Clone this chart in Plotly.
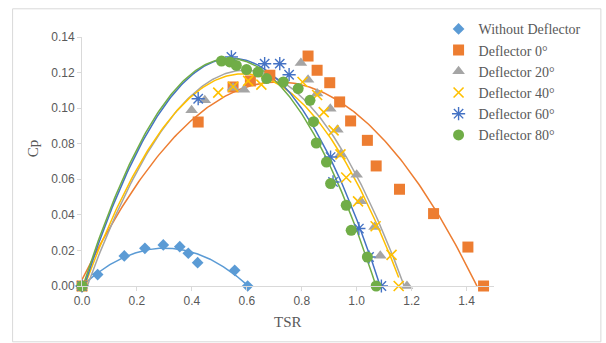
import numpy as np
import plotly.graph_objects as go

# ---- data ----
tsr_none = [0.0, 0.057, 0.154, 0.229, 0.296, 0.356, 0.387, 0.421, 0.556, 0.603]
cp_none = [0.0, 0.0064, 0.0169, 0.0212, 0.0231, 0.0221, 0.0184, 0.0131, 0.0088, 0.0]

tsr_d0 = [0.0, 0.423, 0.550, 0.613, 0.684, 0.823, 0.856, 0.902, 0.938, 0.978, 1.039, 1.071, 1.156, 1.280, 1.405, 1.462]
cp_d0 = [0.0, 0.0922, 0.1119, 0.1153, 0.1185, 0.1293, 0.1213, 0.1143, 0.1035, 0.0928, 0.0819, 0.0675, 0.0544, 0.0407, 0.0219, 0.0]

tsr_d20 = [0.0, 0.399, 0.447, 0.550, 0.590, 0.797, 0.823, 0.856, 0.904, 0.930, 0.941, 1.000, 1.015, 1.065, 1.086, 1.183]
cp_d20 = [0.0, 0.0988, 0.1044, 0.1115, 0.1104, 0.1254, 0.1160, 0.1082, 0.0997, 0.0879, 0.0740, 0.0626, 0.0476, 0.0332, 0.0170, 0.0]

tsr_d40 = [0.0, 0.496, 0.550, 0.605, 0.653, 0.803, 0.856, 0.880, 0.916, 0.941, 0.962, 1.005, 1.069, 1.127, 1.153]
cp_d40 = [0.0, 0.1087, 0.1120, 0.1153, 0.1132, 0.1147, 0.1074, 0.0978, 0.0875, 0.0740, 0.0610, 0.0476, 0.0336, 0.0175, 0.0]

tsr_d60 = [0.0, 0.423, 0.544, 0.665, 0.720, 0.754, 0.905, 0.914, 1.008, 1.045, 1.090]
cp_d60 = [0.0, 0.1053, 0.1288, 0.1250, 0.1250, 0.1188, 0.0725, 0.0585, 0.0323, 0.0163, 0.0]

tsr_d80 = [0.0, 0.508, 0.538, 0.562, 0.599, 0.641, 0.672, 0.733, 0.787, 0.830, 0.843, 0.853, 0.890, 0.905, 0.962, 0.980, 1.039, 1.071]
cp_d80 = [0.0, 0.1265, 0.1260, 0.1240, 0.1217, 0.1203, 0.1166, 0.1147, 0.1110, 0.1044, 0.0924, 0.0804, 0.0697, 0.0576, 0.0454, 0.0313, 0.0163, 0.0]

series_names = ["Without Deflector", "Deflector 0°", "Deflector 20°", "Deflector 40°", "Deflector 60°", "Deflector 80°"]
x_ticks = [0.0, 0.2, 0.4, 0.6, 0.8, 1.0, 1.2, 1.4]
y_ticks = [0.00, 0.02, 0.04, 0.06, 0.08, 0.10, 0.12, 0.14]

series = [
    (tsr_none, cp_none, "#5B9BD5", dict(symbol="diamond", size=9)),
    (tsr_d0, cp_d0, "#ED7D31", dict(symbol="square", size=11)),
    (tsr_d20, cp_d20, "#A5A5A5", dict(symbol="triangle-up", size=11)),
    (tsr_d40, cp_d40, "#FFC000", dict(symbol="x-thin", size=10, line=dict(width=1.6, color="#FFC000"))),
    (tsr_d60, cp_d60, "#4472C4", dict(symbol="asterisk", size=11, line=dict(width=1.4, color="#4472C4"))),
    (tsr_d80, cp_d80, "#70AD47", dict(symbol="circle", size=11)),
]

fig = go.Figure()

# polynomial (order 2) trendlines, as in the spreadsheet chart
for (xs, ys, col, mk), name in zip(series, series_names):
    coef = np.polyfit(xs, ys, 2)
    xx = np.linspace(min(xs), max(xs), 200)
    fig.add_trace(go.Scatter(x=xx, y=np.polyval(coef, xx), mode="lines",
                             line=dict(color=col, width=1.5), showlegend=False,
                             hoverinfo="skip"))

for (xs, ys, col, mk), name in zip(series, series_names):
    m = dict(color=col)
    m.update(mk)
    fig.add_trace(go.Scatter(x=xs, y=ys, mode="markers", name=name, marker=m,
                             cliponaxis=False))

L, R, T, B = 82, 494.5, 36.7, 285.7
W, H = 606, 343
pw, ph = R - L, B - T

def px(x):
    return (x - L) / pw

def py(y):
    return (B - y) / ph

axis_common = dict(showgrid=False, zeroline=False, showline=True, linecolor="#D9D9D9",
                   linewidth=1, ticks="outside", tickcolor="#D9D9D9", ticklen=4,
                   tickfont=dict(family="Liberation Sans", size=12, color="#595959"))

fig.update_layout(
    width=W, height=H,
    margin=dict(l=L, r=W - R, t=T, b=H - B, autoexpand=False),
    paper_bgcolor="white", plot_bgcolor="white",
    xaxis=dict(range=[0, 1.5], tickvals=x_ticks, ticktext=[f"{v:.1f}" for v in x_ticks], **axis_common),
    yaxis=dict(range=[0, 0.14], tickvals=y_ticks, ticktext=[f"{v:.2f}" for v in y_ticks], **axis_common),
    legend=dict(x=px(439), y=py(13), xanchor="left", yanchor="top",
                font=dict(family="Liberation Serif", size=14, color="#595959"),
                bgcolor="rgba(0,0,0,0)", itemwidth=30, tracegroupgap=0),
    annotations=[
        dict(text="TSR", x=0.5, y=py(322), xref="paper", yref="paper", showarrow=False,
             xanchor="center", yanchor="middle",
             font=dict(family="Liberation Serif", size=15, color="#595959")),
        dict(text="Cp", x=px(33), y=py(148), xref="paper", yref="paper", showarrow=False,
             xanchor="center", yanchor="middle",
             textangle=-90, font=dict(family="Liberation Serif", size=15, color="#595959")),
    ],
    shapes=[dict(type="rect", xref="paper", yref="paper", x0=px(12.5), x1=px(601.5),
                 y0=py(341.5), y1=py(8.5), line=dict(color="#D9D9D9", width=1))],
)

fig.write_html("out.html")
